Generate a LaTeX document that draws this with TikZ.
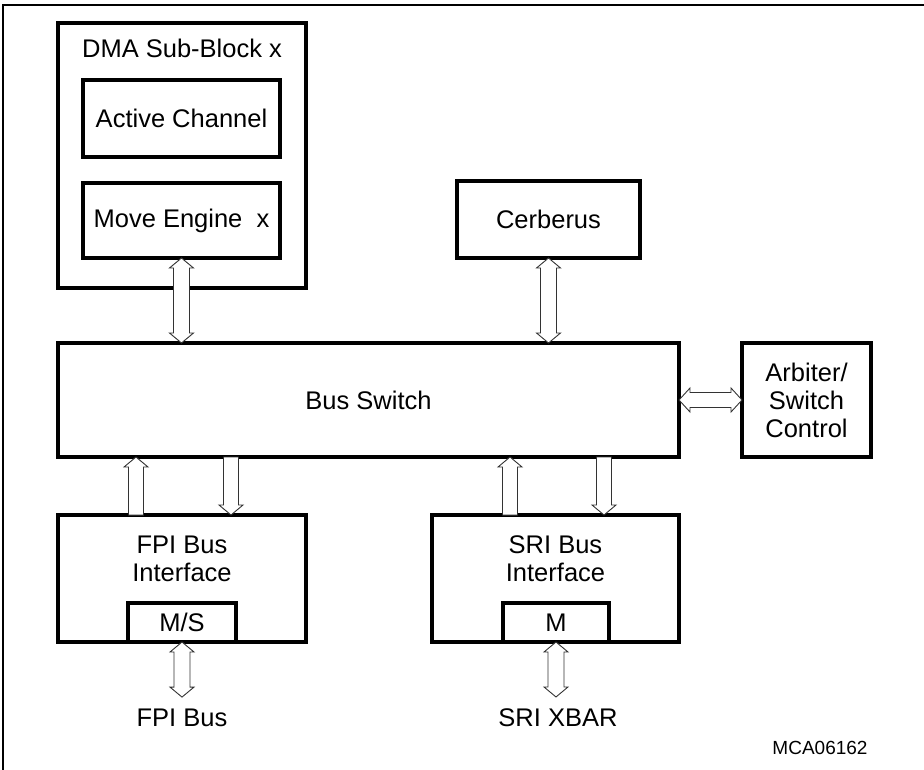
\documentclass[tikz,border=0pt]{standalone}
\usepackage{fontspec}
\setmainfont{Liberation Sans}
\usetikzlibrary{calc}
\tikzset{
  blk/.style={draw, line width=3.4pt, inner sep=0pt, outer sep=0pt, fill=white,
    font=\fontsize{25.5}{28}\selectfont, align=center},
  txt/.style={inner sep=0pt, outer sep=0pt, font=\fontsize{25.5}{28}\selectfont, align=center},
  hollow/.style={draw=black!80, fill=white, line width=0.9pt, line join=miter}
}
% vertical double arrow: x and top y from #1, bottom y from #2
\newcommand\vdblarr[2]{\draw[hollow] let \p1=(#1), \p2=(#2) in
  (\x1,\y1) -- ({\x1+12pt},{\y1-10pt}) -- ({\x1+8pt},{\y1-10pt}) -- ({\x1+8pt},{\y2+10pt})
  -- ({\x1+12pt},{\y2+10pt}) -- (\x1,\y2) -- ({\x1-12pt},{\y2+10pt}) -- ({\x1-8pt},{\y2+10pt})
  -- ({\x1-8pt},{\y1-10pt}) -- ({\x1-12pt},{\y1-10pt}) -- cycle;}
% upward arrow: x and bottom (flat) y from #1, tip y from #2
\newcommand\vuparr[2]{\draw[hollow] let \p1=(#1), \p2=(#2) in
  ({\x1-7.5pt},\y1) -- ({\x1-7.5pt},{\y2-10pt}) -- ({\x1-12pt},{\y2-10pt}) -- (\x1,\y2)
  -- ({\x1+12pt},{\y2-10pt}) -- ({\x1+7.5pt},{\y2-10pt}) -- ({\x1+7.5pt},\y1) -- cycle;}
% downward arrow: x and tip y from #1, top (flat) y from #2
\newcommand\vdownarr[2]{\draw[hollow] let \p1=(#1), \p2=(#2) in
  ({\x1-7.5pt},\y2) -- ({\x1+7.5pt},\y2) -- ({\x1+7.5pt},{\y1+10pt}) -- ({\x1+12pt},{\y1+10pt})
  -- (\x1,\y1) -- ({\x1-12pt},{\y1+10pt}) -- ({\x1-7.5pt},{\y1+10pt}) -- cycle;}
% horizontal double arrow: left tip and y from #1, right tip x from #2
\newcommand\hdblarr[2]{\draw[hollow] let \p1=(#1), \p2=(#2) in
  (\x1,\y1) -- ({\x1+11pt},{\y1+12pt}) -- ({\x1+11pt},{\y1+7.5pt}) -- ({\x2-11pt},{\y1+7.5pt})
  -- ({\x2-11pt},{\y1+12pt}) -- (\x2,\y1) -- ({\x2-11pt},{\y1-12pt}) -- ({\x2-11pt},{\y1-7.5pt})
  -- ({\x1+11pt},{\y1-7.5pt}) -- ({\x1+11pt},{\y1-12pt}) -- cycle;}
\begin{document}
\begin{tikzpicture}[x=1pt,y=-1pt]
\useasboundingbox (0,0) rectangle (924,770);
\draw[line width=1.4pt] (924,5) -- (3,5) -- (3,770);

% DMA sub-block
\node[blk, minimum width=248pt, minimum height=265pt] (dma) at (182,155.5) {};
\node[txt] (dmat) at (182,48) {DMA Sub-Block x};
\node[blk, minimum width=197pt, minimum height=77pt] (act) at (181.5,118.5) {Active Channel};
\node[blk, minimum width=197pt, minimum height=75pt] (move) at (181.5,220.5) {Move Engine\ \ x};

% Cerberus
\node[blk, minimum width=183pt, minimum height=77pt] (cerb) at (548.5,219.5) {Cerberus};

% Bus switch and arbiter
\node[blk, minimum width=621pt, minimum height=114pt] (bus) at (368.5,400) {Bus Switch};
\node[blk, minimum width=129pt, minimum height=114pt] (arb) at (806.5,400) {Arbiter/\\Switch\\Control};

% Interfaces
\node[blk, minimum width=248pt, minimum height=127pt] (fpi) at (182,578.5) {};
\node[txt] (fpit) at (182,559) {FPI Bus\\Interface};
\node[blk, minimum width=108pt, minimum height=39pt] (ms) at (182,622.5) {M/S};

\node[blk, minimum width=247pt, minimum height=127pt] (sri) at (555.5,578.5) {};
\node[txt] (srit) at (555.5,559) {SRI Bus\\Interface};
\node[blk, minimum width=106pt, minimum height=39pt] (m) at (556,622.5) {M};

% External labels
\node[txt] (fpibus) at (182,718) {FPI Bus};
\node[txt] (srixbar) at (558,718) {SRI XBAR};
\node[inner sep=0pt, font=\fontsize{19}{22}\selectfont] (mca) at (820,748) {MCA06162};

% Arrows
\vdblarr{move.south}{bus.north}
\vdblarr{cerb.south}{bus.north}
\hdblarr{bus.east}{arb.west}
\vuparr{[xshift=-46pt]fpi.north}{bus.south}
\vdownarr{[xshift=49pt]fpi.north}{bus.south}
\vuparr{[xshift=-45.5pt]sri.north}{bus.south}
\vdownarr{[xshift=48.5pt]sri.north}{bus.south}
\vdblarr{ms.south}{[yshift=12pt]fpibus.north}
\vdblarr{m.south}{[yshift=12pt]srixbar.north}
\end{tikzpicture}
\end{document}
